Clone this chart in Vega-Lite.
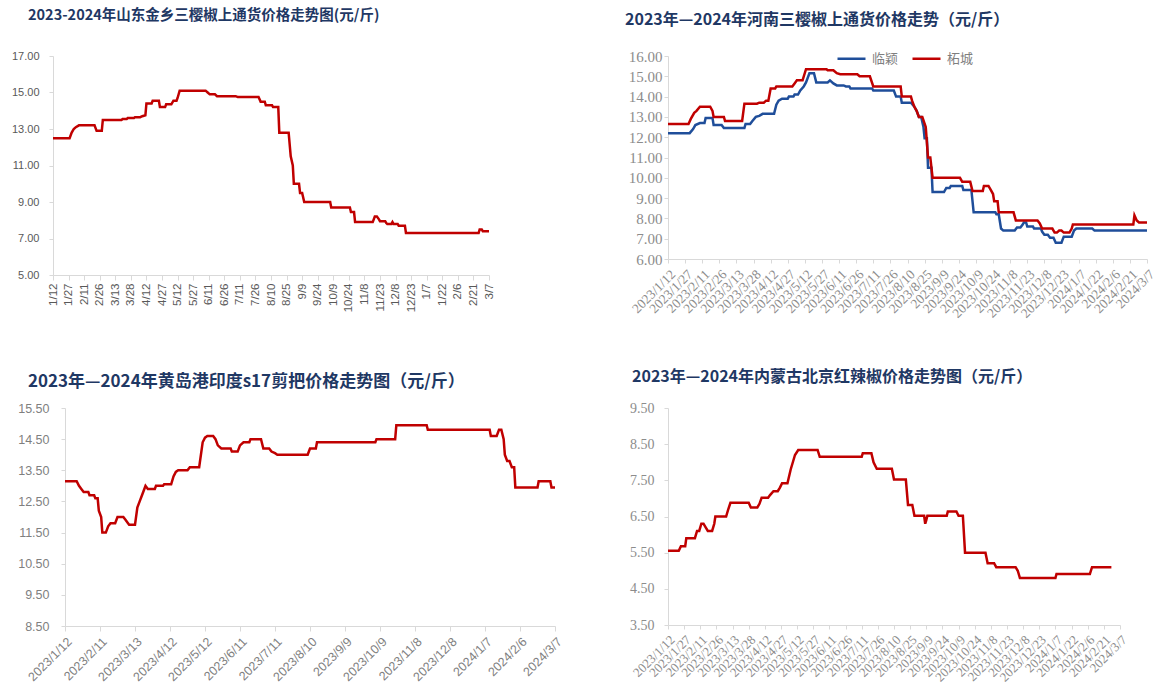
{
  "$schema": "https://vega.github.io/schema/vega-lite/v6.json",
  "background": "#ffffff",
  "padding": {"left": 11, "top": 7, "right": 5, "bottom": 5},
  "config": {"view": {"stroke": null}},
  "columns": 2,
  "bounds": "flush",
  "spacing": {"row": 133, "column": 113},
  "datasets": {
    "p1": [
      {"date":"2023/01/12","price":12.5},{"date":"2023/01/28","price":12.5},{"date":"2023/01/30","price":12.8},{"date":"2023/02/01","price":13.0},{"date":"2023/02/03","price":13.1},{"date":"2023/02/06","price":13.2},{"date":"2023/02/21","price":13.2},{"date":"2023/02/23","price":12.9},{"date":"2023/02/28","price":12.9},{"date":"2023/03/01","price":13.5},{"date":"2023/03/19","price":13.5},{"date":"2023/03/20","price":13.55},{"date":"2023/03/24","price":13.55},{"date":"2023/03/25","price":13.6},{"date":"2023/03/31","price":13.6},{"date":"2023/04/01","price":13.65},{"date":"2023/04/06","price":13.65},{"date":"2023/04/08","price":13.7},{"date":"2023/04/11","price":13.75},{"date":"2023/04/12","price":14.4},{"date":"2023/04/17","price":14.4},{"date":"2023/04/18","price":14.55},{"date":"2023/04/24","price":14.55},{"date":"2023/04/25","price":14.2},{"date":"2023/04/30","price":14.2},{"date":"2023/05/01","price":14.35},{"date":"2023/05/06","price":14.35},{"date":"2023/05/08","price":14.55},{"date":"2023/05/11","price":14.55},{"date":"2023/05/12","price":14.7},{"date":"2023/05/14","price":15.1},{"date":"2023/06/08","price":15.1},{"date":"2023/06/10","price":15.0},{"date":"2023/06/12","price":14.9},{"date":"2023/06/17","price":14.9},{"date":"2023/06/19","price":14.8},{"date":"2023/07/07","price":14.8},{"date":"2023/07/09","price":14.75},{"date":"2023/07/29","price":14.75},{"date":"2023/07/31","price":14.5},{"date":"2023/08/04","price":14.5},{"date":"2023/08/05","price":14.3},{"date":"2023/08/11","price":14.3},{"date":"2023/08/12","price":14.2},{"date":"2023/08/17","price":14.2},{"date":"2023/08/18","price":12.8},{"date":"2023/08/27","price":12.8},{"date":"2023/08/29","price":11.5},{"date":"2023/08/31","price":11.0},{"date":"2023/09/01","price":10.0},{"date":"2023/09/06","price":10.0},{"date":"2023/09/07","price":9.5},{"date":"2023/09/09","price":9.5},{"date":"2023/09/11","price":9.0},{"date":"2023/10/06","price":9.0},{"date":"2023/10/07","price":8.7},{"date":"2023/10/25","price":8.7},{"date":"2023/10/26","price":8.45},{"date":"2023/10/29","price":8.45},{"date":"2023/10/30","price":7.9},{"date":"2023/11/16","price":7.9},{"date":"2023/11/18","price":8.2},{"date":"2023/11/20","price":8.2},{"date":"2023/11/22","price":8.05},{"date":"2023/11/23","price":7.95},{"date":"2023/11/28","price":7.95},{"date":"2023/11/29","price":7.85},{"date":"2023/11/30","price":7.8},{"date":"2023/12/04","price":7.8},{"date":"2023/12/05","price":7.9},{"date":"2023/12/06","price":7.8},{"date":"2023/12/10","price":7.8},{"date":"2023/12/11","price":7.7},{"date":"2023/12/17","price":7.7},{"date":"2023/12/18","price":7.3},{"date":"2024/02/26","price":7.3},{"date":"2024/02/27","price":7.5},{"date":"2024/02/29","price":7.5},{"date":"2024/03/01","price":7.4},{"date":"2024/03/07","price":7.4}
    ],
    "p2": [
      {"region":"临颖","date":"2023/01/12","price":12.2},{"region":"临颖","date":"2023/01/31","price":12.2},{"region":"临颖","date":"2023/02/03","price":12.4},{"region":"临颖","date":"2023/02/05","price":12.6},{"region":"临颖","date":"2023/02/09","price":12.7},{"region":"临颖","date":"2023/02/13","price":12.7},{"region":"临颖","date":"2023/02/14","price":12.95},{"region":"临颖","date":"2023/02/20","price":12.95},{"region":"临颖","date":"2023/02/21","price":12.6},{"region":"临颖","date":"2023/02/28","price":12.6},{"region":"临颖","date":"2023/03/02","price":12.45},{"region":"临颖","date":"2023/03/20","price":12.45},{"region":"临颖","date":"2023/03/21","price":12.65},{"region":"临颖","date":"2023/03/25","price":12.65},{"region":"临颖","date":"2023/03/27","price":12.8},{"region":"临颖","date":"2023/03/30","price":13.0},{"region":"临颖","date":"2023/04/02","price":13.05},{"region":"临颖","date":"2023/04/05","price":13.15},{"region":"临颖","date":"2023/04/15","price":13.15},{"region":"临颖","date":"2023/04/17","price":13.6},{"region":"临颖","date":"2023/04/19","price":13.8},{"region":"临颖","date":"2023/04/22","price":13.9},{"region":"临颖","date":"2023/04/27","price":13.9},{"region":"临颖","date":"2023/04/28","price":14.0},{"region":"临颖","date":"2023/05/02","price":14.0},{"region":"临颖","date":"2023/05/03","price":14.1},{"region":"临颖","date":"2023/05/06","price":14.1},{"region":"临颖","date":"2023/05/08","price":14.3},{"region":"临颖","date":"2023/05/11","price":14.5},{"region":"临颖","date":"2023/05/13","price":14.7},{"region":"临颖","date":"2023/05/16","price":15.15},{"region":"临颖","date":"2023/05/20","price":15.15},{"region":"临颖","date":"2023/05/22","price":14.7},{"region":"临颖","date":"2023/06/01","price":14.7},{"region":"临颖","date":"2023/06/03","price":14.8},{"region":"临颖","date":"2023/06/06","price":14.65},{"region":"临颖","date":"2023/06/09","price":14.55},{"region":"临颖","date":"2023/06/15","price":14.55},{"region":"临颖","date":"2023/06/17","price":14.5},{"region":"临颖","date":"2023/06/20","price":14.5},{"region":"临颖","date":"2023/06/21","price":14.4},{"region":"临颖","date":"2023/07/10","price":14.4},{"region":"临颖","date":"2023/07/11","price":14.3},{"region":"临颖","date":"2023/07/29","price":14.3},{"region":"临颖","date":"2023/07/31","price":14.0},{"region":"临颖","date":"2023/08/04","price":14.0},{"region":"临颖","date":"2023/08/05","price":13.7},{"region":"临颖","date":"2023/08/13","price":13.7},{"region":"临颖","date":"2023/08/16","price":13.5},{"region":"临颖","date":"2023/08/18","price":13.3},{"region":"临颖","date":"2023/08/20","price":13.0},{"region":"临颖","date":"2023/08/22","price":13.0},{"region":"临颖","date":"2023/08/24","price":12.5},{"region":"临颖","date":"2023/08/25","price":11.95},{"region":"临颖","date":"2023/08/27","price":11.95},{"region":"临颖","date":"2023/08/28","price":10.5},{"region":"临颖","date":"2023/08/31","price":10.5},{"region":"临颖","date":"2023/09/01","price":9.3},{"region":"临颖","date":"2023/09/11","price":9.3},{"region":"临颖","date":"2023/09/13","price":9.5},{"region":"临颖","date":"2023/09/16","price":9.5},{"region":"临颖","date":"2023/09/17","price":9.6},{"region":"临颖","date":"2023/09/27","price":9.6},{"region":"临颖","date":"2023/09/28","price":9.4},{"region":"临颖","date":"2023/10/05","price":9.4},{"region":"临颖","date":"2023/10/07","price":8.3},{"region":"临颖","date":"2023/10/26","price":8.3},{"region":"临颖","date":"2023/10/27","price":8.2},{"region":"临颖","date":"2023/10/29","price":8.2},{"region":"临颖","date":"2023/10/31","price":7.5},{"region":"临颖","date":"2023/11/02","price":7.4},{"region":"临颖","date":"2023/11/12","price":7.4},{"region":"临颖","date":"2023/11/14","price":7.55},{"region":"临颖","date":"2023/11/17","price":7.55},{"region":"临颖","date":"2023/11/19","price":7.7},{"region":"临颖","date":"2023/11/20","price":7.8},{"region":"临颖","date":"2023/11/22","price":7.8},{"region":"临颖","date":"2023/11/23","price":7.6},{"region":"临颖","date":"2023/11/28","price":7.6},{"region":"临颖","date":"2023/11/29","price":7.5},{"region":"临颖","date":"2023/12/05","price":7.5},{"region":"临颖","date":"2023/12/06","price":7.35},{"region":"临颖","date":"2023/12/08","price":7.2},{"region":"临颖","date":"2023/12/11","price":7.2},{"region":"临颖","date":"2023/12/13","price":7.05},{"region":"临颖","date":"2023/12/16","price":7.05},{"region":"临颖","date":"2023/12/18","price":6.8},{"region":"临颖","date":"2023/12/23","price":6.8},{"region":"临颖","date":"2023/12/25","price":7.1},{"region":"临颖","date":"2024/01/01","price":7.1},{"region":"临颖","date":"2024/01/03","price":7.4},{"region":"临颖","date":"2024/01/05","price":7.5},{"region":"临颖","date":"2024/01/19","price":7.5},{"region":"临颖","date":"2024/01/21","price":7.4},{"region":"临颖","date":"2024/03/07","price":7.4},
      {"region":"柘城","date":"2023/01/12","price":12.65},{"region":"柘城","date":"2023/01/30","price":12.65},{"region":"柘城","date":"2023/02/01","price":12.9},{"region":"柘城","date":"2023/02/04","price":13.2},{"region":"柘城","date":"2023/02/06","price":13.3},{"region":"柘城","date":"2023/02/09","price":13.5},{"region":"柘城","date":"2023/02/18","price":13.5},{"region":"柘城","date":"2023/02/20","price":13.3},{"region":"柘城","date":"2023/02/21","price":13.0},{"region":"柘城","date":"2023/03/02","price":13.0},{"region":"柘城","date":"2023/03/03","price":12.8},{"region":"柘城","date":"2023/03/18","price":12.8},{"region":"柘城","date":"2023/03/20","price":13.65},{"region":"柘城","date":"2023/03/31","price":13.65},{"region":"柘城","date":"2023/04/02","price":13.7},{"region":"柘城","date":"2023/04/06","price":13.7},{"region":"柘城","date":"2023/04/08","price":13.8},{"region":"柘城","date":"2023/04/10","price":13.8},{"region":"柘城","date":"2023/04/12","price":14.4},{"region":"柘城","date":"2023/04/16","price":14.4},{"region":"柘城","date":"2023/04/17","price":14.5},{"region":"柘城","date":"2023/05/01","price":14.5},{"region":"柘城","date":"2023/05/03","price":14.65},{"region":"柘城","date":"2023/05/05","price":14.8},{"region":"柘城","date":"2023/05/10","price":14.8},{"region":"柘城","date":"2023/05/13","price":15.35},{"region":"柘城","date":"2023/05/31","price":15.35},{"region":"柘城","date":"2023/06/01","price":15.3},{"region":"柘城","date":"2023/06/06","price":15.3},{"region":"柘城","date":"2023/06/09","price":15.15},{"region":"柘城","date":"2023/06/12","price":15.1},{"region":"柘城","date":"2023/06/27","price":15.1},{"region":"柘城","date":"2023/06/29","price":15.0},{"region":"柘城","date":"2023/07/08","price":15.0},{"region":"柘城","date":"2023/07/11","price":14.5},{"region":"柘城","date":"2023/08/04","price":14.5},{"region":"柘城","date":"2023/08/05","price":14.0},{"region":"柘城","date":"2023/08/13","price":14.0},{"region":"柘城","date":"2023/08/14","price":13.8},{"region":"柘城","date":"2023/08/16","price":13.5},{"region":"柘城","date":"2023/08/18","price":13.3},{"region":"柘城","date":"2023/08/20","price":13.0},{"region":"柘城","date":"2023/08/23","price":13.0},{"region":"柘城","date":"2023/08/26","price":12.5},{"region":"柘城","date":"2023/08/28","price":11.0},{"region":"柘城","date":"2023/08/30","price":11.0},{"region":"柘城","date":"2023/09/01","price":10.0},{"region":"柘城","date":"2023/09/25","price":10.0},{"region":"柘城","date":"2023/09/27","price":9.8},{"region":"柘城","date":"2023/10/04","price":9.8},{"region":"柘城","date":"2023/10/06","price":9.35},{"region":"柘城","date":"2023/10/15","price":9.35},{"region":"柘城","date":"2023/10/16","price":9.6},{"region":"柘城","date":"2023/10/20","price":9.6},{"region":"柘城","date":"2023/10/22","price":9.4},{"region":"柘城","date":"2023/10/24","price":9.2},{"region":"柘城","date":"2023/10/25","price":8.85},{"region":"柘城","date":"2023/10/28","price":8.85},{"region":"柘城","date":"2023/10/29","price":8.3},{"region":"柘城","date":"2023/11/11","price":8.3},{"region":"柘城","date":"2023/11/13","price":7.9},{"region":"柘城","date":"2023/12/02","price":7.9},{"region":"柘城","date":"2023/12/04","price":7.75},{"region":"柘城","date":"2023/12/06","price":7.5},{"region":"柘城","date":"2023/12/15","price":7.5},{"region":"柘城","date":"2023/12/17","price":7.3},{"region":"柘城","date":"2023/12/19","price":7.3},{"region":"柘城","date":"2023/12/21","price":7.4},{"region":"柘城","date":"2023/12/23","price":7.4},{"region":"柘城","date":"2023/12/25","price":7.3},{"region":"柘城","date":"2023/12/30","price":7.3},{"region":"柘城","date":"2024/01/01","price":7.5},{"region":"柘城","date":"2024/01/02","price":7.7},{"region":"柘城","date":"2024/02/24","price":7.7},{"region":"柘城","date":"2024/02/25","price":8.15},{"region":"柘城","date":"2024/02/27","price":7.9},{"region":"柘城","date":"2024/02/29","price":7.8},{"region":"柘城","date":"2024/03/07","price":7.8}
    ],
    "p3": [
      {"date":"2023/01/12","price":13.15},{"date":"2023/01/22","price":13.15},{"date":"2023/01/24","price":13.0},{"date":"2023/01/26","price":12.9},{"date":"2023/01/28","price":12.8},{"date":"2023/02/01","price":12.8},{"date":"2023/02/02","price":12.7},{"date":"2023/02/06","price":12.7},{"date":"2023/02/07","price":12.6},{"date":"2023/02/09","price":12.6},{"date":"2023/02/10","price":12.2},{"date":"2023/02/12","price":12.0},{"date":"2023/02/13","price":11.5},{"date":"2023/02/16","price":11.5},{"date":"2023/02/18","price":11.7},{"date":"2023/02/20","price":11.8},{"date":"2023/02/24","price":11.8},{"date":"2023/02/26","price":12.0},{"date":"2023/03/03","price":12.0},{"date":"2023/03/05","price":11.9},{"date":"2023/03/07","price":11.8},{"date":"2023/03/08","price":11.75},{"date":"2023/03/13","price":11.75},{"date":"2023/03/15","price":12.3},{"date":"2023/03/17","price":12.5},{"date":"2023/03/19","price":12.7},{"date":"2023/03/21","price":12.9},{"date":"2023/03/22","price":13.0},{"date":"2023/03/24","price":12.9},{"date":"2023/03/30","price":12.9},{"date":"2023/03/31","price":13.0},{"date":"2023/04/06","price":13.0},{"date":"2023/04/07","price":13.05},{"date":"2023/04/13","price":13.05},{"date":"2023/04/15","price":13.3},{"date":"2023/04/17","price":13.45},{"date":"2023/04/19","price":13.5},{"date":"2023/04/27","price":13.5},{"date":"2023/04/29","price":13.6},{"date":"2023/05/07","price":13.6},{"date":"2023/05/10","price":14.4},{"date":"2023/05/12","price":14.55},{"date":"2023/05/14","price":14.6},{"date":"2023/05/19","price":14.6},{"date":"2023/05/21","price":14.5},{"date":"2023/05/23","price":14.3},{"date":"2023/05/26","price":14.2},{"date":"2023/06/03","price":14.2},{"date":"2023/06/04","price":14.1},{"date":"2023/06/09","price":14.1},{"date":"2023/06/11","price":14.3},{"date":"2023/06/14","price":14.4},{"date":"2023/06/19","price":14.4},{"date":"2023/06/20","price":14.5},{"date":"2023/06/29","price":14.5},{"date":"2023/07/01","price":14.2},{"date":"2023/07/06","price":14.2},{"date":"2023/07/08","price":14.1},{"date":"2023/07/11","price":14.05},{"date":"2023/07/13","price":14.0},{"date":"2023/08/08","price":14.0},{"date":"2023/08/10","price":14.2},{"date":"2023/08/15","price":14.2},{"date":"2023/08/16","price":14.4},{"date":"2023/10/05","price":14.4},{"date":"2023/10/06","price":14.5},{"date":"2023/10/22","price":14.5},{"date":"2023/10/23","price":14.95},{"date":"2023/11/18","price":14.95},{"date":"2023/11/19","price":14.8},{"date":"2024/01/11","price":14.8},{"date":"2024/01/12","price":14.6},{"date":"2024/01/17","price":14.6},{"date":"2024/01/19","price":14.8},{"date":"2024/01/21","price":14.8},{"date":"2024/01/23","price":14.5},{"date":"2024/01/24","price":14.0},{"date":"2024/01/26","price":13.8},{"date":"2024/01/28","price":13.8},{"date":"2024/01/30","price":13.6},{"date":"2024/02/01","price":13.6},{"date":"2024/02/02","price":12.95},{"date":"2024/02/21","price":12.95},{"date":"2024/02/22","price":13.15},{"date":"2024/03/03","price":13.15},{"date":"2024/03/04","price":12.95},{"date":"2024/03/07","price":12.95}
    ],
    "p4": [
      {"date":"2023/01/12","price":5.55},{"date":"2023/01/22","price":5.55},{"date":"2023/01/24","price":5.68},{"date":"2023/01/28","price":5.68},{"date":"2023/01/29","price":5.9},{"date":"2023/02/06","price":5.9},{"date":"2023/02/08","price":6.1},{"date":"2023/02/10","price":6.1},{"date":"2023/02/12","price":6.3},{"date":"2023/02/14","price":6.3},{"date":"2023/02/16","price":6.2},{"date":"2023/02/18","price":6.1},{"date":"2023/02/22","price":6.1},{"date":"2023/02/24","price":6.3},{"date":"2023/02/25","price":6.5},{"date":"2023/03/07","price":6.5},{"date":"2023/03/09","price":6.7},{"date":"2023/03/11","price":6.88},{"date":"2023/03/28","price":6.88},{"date":"2023/03/30","price":6.75},{"date":"2023/04/05","price":6.75},{"date":"2023/04/07","price":6.85},{"date":"2023/04/09","price":7.02},{"date":"2023/04/15","price":7.02},{"date":"2023/04/17","price":7.1},{"date":"2023/04/20","price":7.2},{"date":"2023/04/24","price":7.2},{"date":"2023/04/26","price":7.3},{"date":"2023/04/28","price":7.42},{"date":"2023/05/03","price":7.42},{"date":"2023/05/06","price":7.8},{"date":"2023/05/08","price":8.0},{"date":"2023/05/10","price":8.2},{"date":"2023/05/13","price":8.34},{"date":"2023/05/31","price":8.34},{"date":"2023/06/02","price":8.15},{"date":"2023/07/11","price":8.15},{"date":"2023/07/12","price":8.25},{"date":"2023/07/20","price":8.25},{"date":"2023/07/22","price":8.0},{"date":"2023/07/25","price":7.82},{"date":"2023/08/08","price":7.82},{"date":"2023/08/10","price":7.52},{"date":"2023/08/21","price":7.52},{"date":"2023/08/23","price":6.82},{"date":"2023/08/27","price":6.82},{"date":"2023/08/29","price":6.52},{"date":"2023/09/07","price":6.52},{"date":"2023/09/08","price":6.3},{"date":"2023/09/09","price":6.4},{"date":"2023/09/10","price":6.52},{"date":"2023/09/28","price":6.52},{"date":"2023/09/29","price":6.64},{"date":"2023/10/07","price":6.64},{"date":"2023/10/09","price":6.52},{"date":"2023/10/13","price":6.52},{"date":"2023/10/15","price":5.5},{"date":"2023/11/03","price":5.5},{"date":"2023/11/05","price":5.21},{"date":"2023/11/11","price":5.21},{"date":"2023/11/13","price":5.1},{"date":"2023/12/01","price":5.1},{"date":"2023/12/03","price":5.0},{"date":"2023/12/05","price":4.8},{"date":"2024/01/07","price":4.8},{"date":"2024/01/08","price":4.91},{"date":"2024/02/08","price":4.91},{"date":"2024/02/10","price":5.1},{"date":"2024/02/28","price":5.1}
    ]
  },
  "concat": [
    {
      "width": 436, "height": 219,
      "title": {"text": "2023-2024年山东金乡三樱椒上通货价格走势图(元/斤)", "anchor": "start", "frame": "group", "dx": -25, "offset": 27, "font": "Noto Sans CJK SC", "fontSize": 14.5, "fontWeight": "bold", "color": "#1f3864"},
      "data": {"name": "p1"},
      "mark": {"type": "line", "color": "#c00000", "strokeWidth": 2.5},
      "encoding": {
        "x": {"field": "date", "type": "temporal",
          "scale": {"domain": [{"year":2023,"month":1,"date":12},{"year":2024,"month":3,"date":7}]},
          "axis": {"title": null, "grid": false, "format": "%-m/%-d", "labelAngle": -90, "labelFont": "Liberation Sans", "labelFontSize": 11.5, "labelColor": "#595959", "labelPadding": 3, "tickSize": 5, "tickColor": "#d9d9d9", "domainColor": "#d9d9d9", "labelOverlap": false, "labelFlush": false, "labelBound": false,
            "values": [{"year":2023,"month":1,"date":12},{"year":2023,"month":1,"date":27},{"year":2023,"month":2,"date":11},{"year":2023,"month":2,"date":26},{"year":2023,"month":3,"date":13},{"year":2023,"month":3,"date":28},{"year":2023,"month":4,"date":12},{"year":2023,"month":4,"date":27},{"year":2023,"month":5,"date":12},{"year":2023,"month":5,"date":27},{"year":2023,"month":6,"date":11},{"year":2023,"month":6,"date":26},{"year":2023,"month":7,"date":11},{"year":2023,"month":7,"date":26},{"year":2023,"month":8,"date":10},{"year":2023,"month":8,"date":25},{"year":2023,"month":9,"date":9},{"year":2023,"month":9,"date":24},{"year":2023,"month":10,"date":9},{"year":2023,"month":10,"date":24},{"year":2023,"month":11,"date":8},{"year":2023,"month":11,"date":23},{"year":2023,"month":12,"date":8},{"year":2023,"month":12,"date":23},{"year":2024,"month":1,"date":7},{"year":2024,"month":1,"date":22},{"year":2024,"month":2,"date":6},{"year":2024,"month":2,"date":21},{"year":2024,"month":3,"date":7}]}},
        "y": {"field": "price", "type": "quantitative",
          "scale": {"domain": [5, 17]},
          "axis": {"title": null, "grid": false, "values": [5,7,9,11,13,15,17], "format": ".2f", "labelFont": "Liberation Sans", "labelFontSize": 11, "labelColor": "#595959", "labelPadding": 10, "tickSize": 4, "tickColor": "#d9d9d9", "domainColor": "#d9d9d9"}}
      }
    },
    {
      "width": 479, "height": 203,
      "title": {"text": "2023年—2024年河南三樱椒上通货价格走势（元/斤）", "anchor": "start", "frame": "group", "dx": -43, "offset": 21, "font": "Noto Sans CJK SC", "fontSize": 16, "fontWeight": "bold", "color": "#1f3864"},
      "data": {"name": "p2"},
      "mark": {"type": "line", "strokeWidth": 2.5},
      "encoding": {
        "x": {"field": "date", "type": "temporal",
          "scale": {"domain": [{"year":2023,"month":1,"date":12},{"year":2024,"month":3,"date":7}]},
          "axis": {"title": null, "grid": false, "format": "%Y/%-m/%-d", "labelAngle": -45, "labelFont": "Liberation Serif", "labelFontSize": 13.5, "labelColor": "#8c8c8c", "labelPadding": 4, "tickSize": 4, "tickColor": "#d9d9d9", "domainColor": "#d9d9d9", "labelOverlap": false, "labelFlush": false, "labelBound": false,
            "values": [{"year":2023,"month":1,"date":12},{"year":2023,"month":1,"date":27},{"year":2023,"month":2,"date":11},{"year":2023,"month":2,"date":26},{"year":2023,"month":3,"date":13},{"year":2023,"month":3,"date":28},{"year":2023,"month":4,"date":12},{"year":2023,"month":4,"date":27},{"year":2023,"month":5,"date":12},{"year":2023,"month":5,"date":27},{"year":2023,"month":6,"date":11},{"year":2023,"month":6,"date":26},{"year":2023,"month":7,"date":11},{"year":2023,"month":7,"date":26},{"year":2023,"month":8,"date":10},{"year":2023,"month":8,"date":25},{"year":2023,"month":9,"date":9},{"year":2023,"month":9,"date":24},{"year":2023,"month":10,"date":9},{"year":2023,"month":10,"date":24},{"year":2023,"month":11,"date":8},{"year":2023,"month":11,"date":23},{"year":2023,"month":12,"date":8},{"year":2023,"month":12,"date":23},{"year":2024,"month":1,"date":7},{"year":2024,"month":1,"date":22},{"year":2024,"month":2,"date":6},{"year":2024,"month":2,"date":21},{"year":2024,"month":3,"date":7}]}},
        "y": {"field": "price", "type": "quantitative",
          "scale": {"domain": [6, 16]},
          "axis": {"title": null, "grid": false, "values": [6,7,8,9,10,11,12,13,14,15,16], "format": ".2f", "labelFont": "Liberation Serif", "labelFontSize": 15, "labelColor": "#8c8c8c", "labelPadding": 2, "tickSize": 4, "tickColor": "#d9d9d9", "domainColor": "#d9d9d9"}},
        "color": {"field": "region", "type": "nominal",
          "scale": {"domain": ["临颖", "柘城"], "range": ["#1f4e9a", "#c00000"]},
          "legend": {"orient": "none", "legendX": 783, "legendY": -13, "direction": "horizontal", "title": null, "symbolType": "stroke", "symbolSize": 784, "symbolStrokeWidth": 2.5, "labelFont": "Noto Sans CJK SC", "labelFontSize": 13, "labelColor": "#7f7f7f", "columnPadding": 8, "labelOffset": 5, "padding": 0}}
      }
    },
    {
      "width": 502, "height": 218,
      "title": {"text": "2023年—2024年黄岛港印度s17剪把价格走势图（元/斤）", "anchor": "start", "frame": "group", "dx": -25, "offset": 11, "font": "Noto Sans CJK SC", "fontSize": 17, "fontWeight": "bold", "color": "#1f3864"},
      "data": {"name": "p3"},
      "mark": {"type": "line", "color": "#c00000", "strokeWidth": 2.5},
      "encoding": {
        "x": {"field": "date", "type": "temporal",
          "scale": {"domain": [{"year":2023,"month":1,"date":12},{"year":2024,"month":3,"date":7}], "range": [12, 502]},
          "axis": {"title": null, "grid": false, "format": "%Y/%-m/%-d", "labelAngle": -45, "labelFont": "Liberation Sans", "labelFontSize": 12.5, "labelColor": "#7f7f7f", "labelPadding": 4, "tickSize": 5, "tickColor": "#d9d9d9", "domainColor": "#d9d9d9", "labelOverlap": false, "labelFlush": false, "labelBound": false,
            "values": [{"year":2023,"month":1,"date":12},{"year":2023,"month":2,"date":11},{"year":2023,"month":3,"date":13},{"year":2023,"month":4,"date":12},{"year":2023,"month":5,"date":12},{"year":2023,"month":6,"date":11},{"year":2023,"month":7,"date":11},{"year":2023,"month":8,"date":10},{"year":2023,"month":9,"date":9},{"year":2023,"month":10,"date":9},{"year":2023,"month":11,"date":8},{"year":2023,"month":12,"date":8},{"year":2024,"month":1,"date":7},{"year":2024,"month":2,"date":6},{"year":2024,"month":3,"date":7}]}},
        "y": {"field": "price", "type": "quantitative",
          "scale": {"domain": [8.5, 15.5]},
          "axis": {"title": null, "grid": false, "offset": -12, "values": [8.5,9.5,10.5,11.5,12.5,13.5,14.5,15.5], "format": ".2f", "labelFont": "Liberation Sans", "labelFontSize": 12.5, "labelColor": "#7f7f7f", "labelPadding": 12, "tickSize": 4, "tickColor": "#d9d9d9", "domainColor": "#d9d9d9"}}
      }
    },
    {
      "width": 452, "height": 217,
      "title": {"text": "2023年—2024年内蒙古北京红辣椒价格走势图（元/斤）", "anchor": "start", "frame": "group", "dx": -36, "offset": 16, "font": "Noto Sans CJK SC", "fontSize": 16, "fontWeight": "bold", "color": "#1f3864"},
      "data": {"name": "p4"},
      "mark": {"type": "line", "color": "#c00000", "strokeWidth": 2.5},
      "encoding": {
        "x": {"field": "date", "type": "temporal",
          "scale": {"domain": [{"year":2023,"month":1,"date":12},{"year":2024,"month":3,"date":7}]},
          "axis": {"title": null, "grid": false, "format": "%Y/%-m/%-d", "labelAngle": -45, "labelFont": "Liberation Serif", "labelFontSize": 13, "labelColor": "#8c8c8c", "labelPadding": 4, "tickSize": 4, "tickColor": "#d9d9d9", "domainColor": "#d9d9d9", "labelOverlap": false, "labelFlush": false, "labelBound": false,
            "values": [{"year":2023,"month":1,"date":12},{"year":2023,"month":1,"date":27},{"year":2023,"month":2,"date":11},{"year":2023,"month":2,"date":26},{"year":2023,"month":3,"date":13},{"year":2023,"month":3,"date":28},{"year":2023,"month":4,"date":12},{"year":2023,"month":4,"date":27},{"year":2023,"month":5,"date":12},{"year":2023,"month":5,"date":27},{"year":2023,"month":6,"date":11},{"year":2023,"month":6,"date":26},{"year":2023,"month":7,"date":11},{"year":2023,"month":7,"date":26},{"year":2023,"month":8,"date":10},{"year":2023,"month":8,"date":25},{"year":2023,"month":9,"date":9},{"year":2023,"month":9,"date":24},{"year":2023,"month":10,"date":9},{"year":2023,"month":10,"date":24},{"year":2023,"month":11,"date":8},{"year":2023,"month":11,"date":23},{"year":2023,"month":12,"date":8},{"year":2023,"month":12,"date":23},{"year":2024,"month":1,"date":7},{"year":2024,"month":1,"date":22},{"year":2024,"month":2,"date":6},{"year":2024,"month":2,"date":21},{"year":2024,"month":3,"date":7}]}},
        "y": {"field": "price", "type": "quantitative",
          "scale": {"domain": [3.5, 9.5]},
          "axis": {"title": null, "grid": false, "values": [3.5,4.5,5.5,6.5,7.5,8.5,9.5], "format": ".2f", "labelFont": "Liberation Serif", "labelFontSize": 14, "labelColor": "#8c8c8c", "labelPadding": 10, "tickSize": 4, "tickColor": "#d9d9d9", "domainColor": "#d9d9d9"}}
      }
    }
  ]
}
